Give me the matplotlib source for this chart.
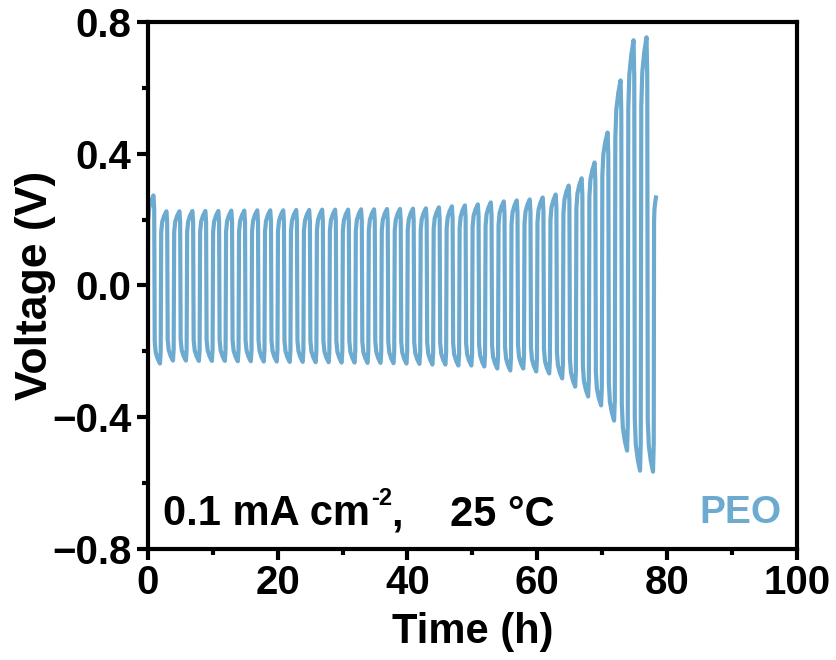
import numpy as np
import matplotlib
matplotlib.use('Agg')
import matplotlib.pyplot as plt
from matplotlib.ticker import MultipleLocator

plt.rcParams['font.family'] = ['Liberation Sans', 'DejaVu Sans']
plt.rcParams['font.weight'] = 'bold'

LINE_COLOR = '#6DAACF'

# peak voltage of each positive half-cycle (t = 2k .. 2k+1 h)
peaks = [0.273, 0.225, 0.225, 0.226, 0.226, 0.226, 0.227, 0.227, 0.228, 0.228,
         0.228, 0.229, 0.229, 0.230, 0.230, 0.230, 0.231, 0.231, 0.232, 0.232,
         0.233, 0.234, 0.237, 0.240, 0.243, 0.246, 0.252, 0.255, 0.258, 0.261,
         0.267, 0.276, 0.303, 0.325, 0.373, 0.464, 0.622, 0.744, 0.753]
# trough voltage of each negative half-cycle (t = 2k+1 .. 2k+2 h)
troughs = [-0.237, -0.228, -0.228, -0.229, -0.229, -0.229, -0.230, -0.230, -0.231, -0.231,
           -0.232, -0.232, -0.233, -0.233, -0.234, -0.234, -0.235, -0.235, -0.236, -0.237,
           -0.238, -0.240, -0.240, -0.243, -0.243, -0.246, -0.252, -0.258, -0.252, -0.261,
           -0.267, -0.282, -0.307, -0.337, -0.364, -0.410, -0.501, -0.562, -0.565]
last_peak = 0.267      # voltage where the record stops
last_duration = 0.3    # h into the final half-cycle

# shape of one half-cycle (fraction of the hour, fraction of the extreme value)
shape_t = [0.0, 0.04, 0.2, 0.5, 0.85, 0.96, 1.0]
shape_v = [0.0, 0.72, 0.86, 0.94, 1.0, 0.85, 0.0]

time, volt = [], []
t0 = 0.0
for p, q in zip(peaks, troughs):
    for ext in (p, q):
        time += [t0 + s for s in shape_t]
        volt += [ext * s for s in shape_v]
        t0 += 1.0
time += [t0 + s * last_duration / 0.85 for s in shape_t[:5]]
volt += [last_peak * s for s in shape_v[:5]]

fig = plt.figure(figsize=(8.36, 6.6), dpi=100)
ax = fig.add_axes([0.177, 0.168, 0.776, 0.799])

ax.plot(time, volt, color=LINE_COLOR, linewidth=3.0, solid_joinstyle='round')

ax.set_xlim(0, 100)
ax.set_ylim(-0.8, 0.8)
ax.xaxis.set_major_locator(MultipleLocator(20))
ax.xaxis.set_minor_locator(MultipleLocator(10))
ax.yaxis.set_major_locator(MultipleLocator(0.4))
ax.yaxis.set_minor_locator(MultipleLocator(0.2))
ax.set_yticks([0.8, 0.4, 0.0, -0.4, -0.8])
ax.set_yticklabels(['0.8', '0.4', '0.0', '\u22120.4', '\u22120.8'])

for sp in ax.spines.values():
    sp.set_linewidth(3)
ax.tick_params(which='major', direction='out', length=8, width=3, labelsize=29, pad=3)
ax.tick_params(which='minor', direction='out', length=4, width=3)
ax.tick_params(axis='y', which='major', pad=4)

ax.set_xlabel('Time (h)', fontsize=30, fontweight='bold', labelpad=7)
ax.set_ylabel('Voltage (V)', fontsize=32, fontweight='bold', labelpad=-3)

t1 = ax.text(0.023, 0.028, '0.1 mA cm', transform=ax.transAxes, fontsize=30,
             fontweight='bold', va='bottom', ha='left')
t2 = ax.annotate('-2', xy=(1, 1), xycoords=t1, xytext=(1, 5), textcoords='offset points',
                 fontsize=17, fontweight='bold', va='top', ha='left')
ax.annotate(',    25 \u00b0C', xy=(1, 0), xycoords=(t2, t1), xytext=(0, 0),
            textcoords='offset points', fontsize=30, fontweight='bold', va='bottom', ha='left')
ax.text(0.977, 0.035, 'PEO', transform=ax.transAxes, fontsize=28, fontweight='bold',
        color=LINE_COLOR, va='bottom', ha='right')

fig.savefig('out.png', dpi=100)
